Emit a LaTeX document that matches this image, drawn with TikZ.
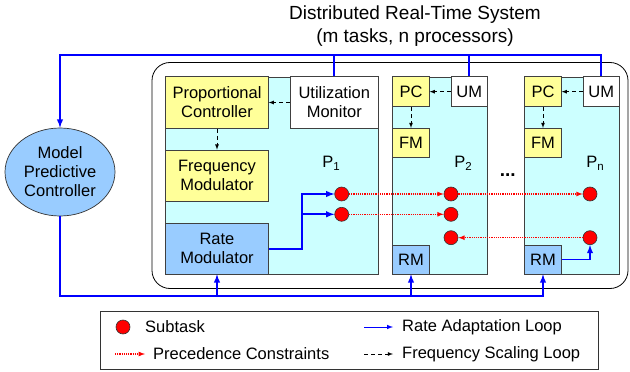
\documentclass[tikz,border=0pt]{standalone}
\usepackage{fontspec}
\setmainfont{Liberation Sans}
\usetikzlibrary{shapes.geometric}
\definecolor{ctrlyellow}{HTML}{FFFF99}
\definecolor{proccyan}{HTML}{CCFFFF}
\definecolor{rmblue}{HTML}{99CCFF}
\newcommand{\procname}[1]{P\raisebox{-3.5pt}{\fontsize{11.5}{12}\selectfont #1}}

\begin{document}
\begin{tikzpicture}[x=1pt,y=-1pt,
    font=\fontsize{16.5}{19}\selectfont,
    box/.style={draw=black!75,line width=0.7pt,inner sep=0pt,align=center},
    ctrl/.style={box,fill=ctrlyellow},
    mon/.style={box,fill=white},
    rmbox/.style={box,fill=rmblue},
    proc/.style={box,fill=proccyan,minimum height=197},
    task/.style={circle,draw=black!80,fill=red,line width=0.6pt,minimum size=14,inner sep=0pt},
    rateloop/.style={draw=blue,line width=1.8pt,>=latex},
    prec/.style={draw=red,densely dotted,line width=1.2pt,>=latex},
    freq/.style={draw=black,dash pattern=on 4pt off 3pt,line width=0.8pt,>=latex}]
                \useasboundingbox (0,0) rectangle (630,372);
                % system frame and processors
                \node[draw=black,line width=0.8pt,rounded corners=18pt,minimum width=476,minimum height=226](SYS) at (390,175.5) {};
                \node[proc,minimum width=213](P1) at (272.2,175.4) {};
                \node[proc,minimum width=95](P2) at (440.2,175.4) {};
                \node[proc,minimum width=95](PN) at (571.8,175.4) {};
                \node[align=center,font=\fontsize{19}{23}\selectfont](TITLE) at (415,26.5) {Distributed Real-Time System\\(m tasks, n processors)};
                \node[ellipse,draw=black!80,fill=rmblue,line width=0.7pt,minimum width=110,minimum height=88,inner sep=0pt,align=center](MPC) at (60,172) {Model\\Predictive\\Controller};
                % processor 1
                \node[ctrl,minimum width=102.6,minimum height=51.6](PC1) at (217,102.5) {Proportional\\Controller};
                \node[mon,minimum width=88.7,minimum height=51.6](UM1) at (334.3,102.5) {Utilization\\Monitor};
                \node[ctrl,minimum width=102.6,minimum height=51](FM1) at (217,175.5) {Frequency\\Modulator};
                \node[rmbox,minimum width=102.6,minimum height=50.7](RM1) at (217,248.6) {Rate\\Modulator};
                % processor 2
                \node[ctrl,minimum width=36.6,minimum height=30](PC2) at (411,91.7) {PC};
                \node[mon,minimum width=36.7,minimum height=30](UM2) at (469.3,91.7) {UM};
                \node[ctrl,minimum width=36.6,minimum height=29](FM2) at (411,142.8) {FM};
                \node[rmbox,minimum width=36.6,minimum height=29](RM2) at (411,259.5) {RM};
                % processor n
                \node[ctrl,minimum width=36.6,minimum height=30](PCN) at (543,91.7) {PC};
                \node[mon,minimum width=36.7,minimum height=30](UMN) at (601.3,91.7) {UM};
                \node[ctrl,minimum width=36.6,minimum height=29](FMN) at (543,142.8) {FM};
                \node[rmbox,minimum width=36.6,minimum height=29](RMN) at (543,259.5) {RM};
                \node[anchor=base](L1) at (331,167.3) {\procname{1}};
                \node[anchor=base](L2) at (463,167.3) {\procname{2}};
                \node[anchor=base](LN) at (595,167.3) {\procname{n}};
                \node[anchor=base,font=\fontsize{19}{20}\selectfont\bfseries](DOTS) at (507.7,176.7) {...};
                % subtasks
                \node[task](T11) at (341.7,194) {};
                \node[task](T12) at (341.7,214.3) {};
                \node[task](T21) at (451,194) {};
                \node[task](T22) at (451,214.3) {};
                \node[task](T23) at (451,237.7) {};
                \node[task](TN1) at (590,194) {};
                \node[task](TN3) at (590,237.7) {};
                \coordinate (SPLIT) at (302,248.6);
                \coordinate (TL) at (60,55);
                \coordinate (BL) at (60,296);
                % frequency scaling loops
                \draw[freq,->] (UM1) -- (PC1);
                \draw[freq,->] (PC1) -- (FM1);
                \draw[freq,->] (UM2) -- (PC2);
                \draw[freq,->] (PC2) -- (FM2);
                \draw[freq,->] (UMN) -- (PCN);
                \draw[freq,->] (PCN) -- (FMN);
                % precedence constraints
                \draw[prec,->] (T11) -- (T21);
                \draw[prec,->] (T21) -- (TN1);
                \draw[prec,->] (T12) -- (T22);
                \draw[prec,->] (TN3) -- (T23);
                % rate adaptation loop
                \draw[rateloop,->] (RM1.east) -- (SPLIT) |- (T11);
                \draw[rateloop,->] (SPLIT) |- (T12);
                \draw[rateloop,->] (RMN.east) -| (TN3);
                \draw[rateloop,->] (UMN.north) |- (TL) -- (MPC.north);
                \draw[rateloop] (UM1.north) -- (UM1.north |- TL);
                \draw[rateloop] (UM2.north) -- (UM2.north |- TL);
                \draw[rateloop,->] (MPC.south) |- (RMN.south |- BL) -- (RMN.south);
                \draw[rateloop,->] (RM1.south |- BL) -- (RM1.south);
                \draw[rateloop,->] (RM2.south |- BL) -- (RM2.south);
                % legend
                \node[draw=black!80,line width=0.8pt,minimum width=498,minimum height=58](LEG) at (349,340) {};
                \node[task](LT) at (123,327) {};
                \node[anchor=west,inner sep=0pt](LTT) at (145,327) {Subtask};
                \coordinate (LP1) at (115,354);
                \coordinate (LP2) at (145,354);
                \draw[prec,->] (LP1) -- (LP2);
                \node[anchor=west,inner sep=0pt](LPT) at (153,354) {Precedence Constraints};
                \coordinate (LR1) at (364,327);
                \coordinate (LR2) at (393,327);
                \draw[rateloop,line width=1pt,->] (LR1) -- (LR2);
                \node[anchor=west,inner sep=0pt](LRT) at (402,327) {Rate Adaptation Loop};
                \coordinate (LF1) at (364,354);
                \coordinate (LF2) at (393,354);
                \draw[freq,->] (LF1) -- (LF2);
                \node[anchor=west,inner sep=0pt](LFT) at (402,354) {Frequency Scaling Loop};
            \end{tikzpicture}
\end{document}
